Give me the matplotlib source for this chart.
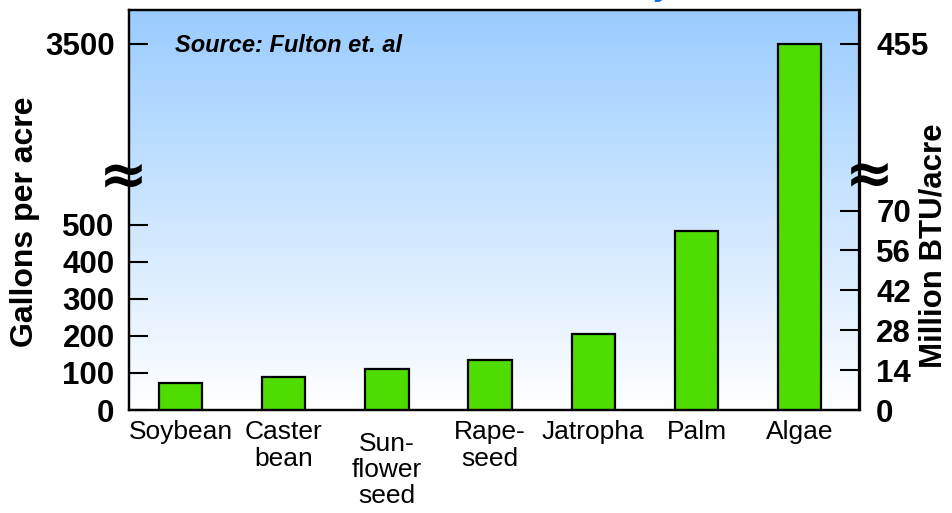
import numpy as np
import matplotlib
matplotlib.use("Agg")
import matplotlib.pyplot as plt
import matplotlib.transforms as mtransforms
from matplotlib.colors import LinearSegmentedColormap

# ---------------- data ----------------
crops = ["Soybean", "Caster\nbean", "Sun-\nflower\nseed", "Rape-\nseed",
         "Jatropha", "Palm", "Algae"]
gallons_per_acre = [72, 88, 112, 136, 205, 482, 3500]
left_ticks = [0, 100, 200, 300, 400, 500, 3500]
right_ticks = [0, 14, 28, 42, 56, 70, 455]
btu_per_gallon = 0.13          # million BTU per gallon (right axis conversion)
break_value = 627              # gallons where the broken axis jumps
compress = 0.126               # compression of the range above the break
y_top = 4230
source_text = "Source: Fulton et. al"
ylabel_left = "Gallons per acre"
ylabel_right = "Million BTU/acre"


def fwd(v):
    v = np.asarray(v, dtype=float)
    return np.where(v <= break_value, v, break_value + (v - break_value) * compress)


def inv(t):
    t = np.asarray(t, dtype=float)
    return np.where(t <= break_value, t, break_value + (t - break_value) / compress)


W, H = 952, 513
fig = plt.figure(figsize=(W / 100, H / 100), dpi=100)
ax_l, ax_r, ax_b, ax_t = 128.5, 859.5, 410, 9.5
ax = fig.add_axes([ax_l / W, 1 - ax_b / H, (ax_r - ax_l) / W, (ax_b - ax_t) / H])

ax.set_yscale("function", functions=(fwd, inv))
ax.set_facecolor("none")

# gradient background
cmap = LinearSegmentedColormap.from_list("bg", ["#ffffff", "#99ccff"])
grad = np.linspace(0, 1, 256).reshape(-1, 1)
ax.imshow(grad, extent=[0, 1, 0, 1], transform=ax.transAxes, aspect="auto",
          cmap=cmap, origin="lower", zorder=0, interpolation="bicubic")

x = np.arange(len(crops))
ax.bar(x, gallons_per_acre, width=0.42, color="#4fdc00", edgecolor="black",
       linewidth=1.6, zorder=3)

ax.set_xlim(-0.505, 6.58)
ax.set_ylim(0, y_top)

tick_font = ["Liberation Sans", "DejaVu Sans"]

# left axis ticks
ax.set_yticks(left_ticks)
ax.set_yticklabels([str(t) for t in left_ticks])
ax.tick_params(axis="y", direction="in", length=14, width=1.5, pad=10,
               labelsize=22.5)
for lab in ax.get_yticklabels():
    lab.set_fontweight("bold")
    lab.set_family(tick_font)
ax.minorticks_off()

# x category labels as texts
ax.set_xticks([])
label_font = ["Liberation Sans", "DejaVu Sans"]
blend = mtransforms.blended_transform_factory(ax.transData, ax.transAxes)
for i, name in enumerate(crops):
    dy = -8 if name.count("\n") == 2 else 0
    tr = blend + mtransforms.ScaledTranslation(0, dy / 72, fig.dpi_scale_trans)
    ax.text(i, -0.026, name, transform=tr, ha="center", va="top",
            fontsize=19, family=label_font, linespacing=1.12,
            multialignment="center")

for s in ax.spines.values():
    s.set_linewidth(1.6)
    s.set_color("black")

# right axis
ax2 = ax.twinx()
ax2.set_yscale("function",
               functions=(lambda b: fwd(np.asarray(b) / btu_per_gallon),
                          lambda t: inv(t) * btu_per_gallon))
ax2.set_ylim(0, y_top * btu_per_gallon)
ax2.set_yticks(right_ticks)
ax2.set_yticklabels([str(t) for t in right_ticks])
ax2.minorticks_off()
ax2.tick_params(axis="y", direction="in", length=14, width=1.5, pad=12,
                labelsize=22.5)
for lab in ax2.get_yticklabels():
    lab.set_fontweight("bold")
    lab.set_family(tick_font)
for s in ax2.spines.values():
    s.set_linewidth(1.6)

# source note
ax.text((175 - ax_l) / (ax_r - ax_l), (ax_b - 45) / (ax_b - ax_t), source_text,
        transform=ax.transAxes, ha="left", va="center", fontsize=17,
        fontweight="bold", fontstyle="italic",
        family=tick_font, zorder=5)

# axis break marks
for px, py in [(123, 177), (869, 176)]:
    ax.text((px - ax_l) / (ax_r - ax_l), (ax_b - py) / (ax_b - ax_t), "≈",
            transform=ax.transAxes, ha="center", va="center", fontsize=42,
            fontweight="bold", family=["DejaVu Sans"], clip_on=False, zorder=6)

# axis titles
fig.text(25 / W, 1 - 222 / H, ylabel_left, rotation=90, ha="center",
         va="center", fontsize=23, fontweight="bold", family=tick_font)
fig.text(934 / W, 1 - 246 / H, ylabel_right, rotation=90, ha="center",
         va="center", fontsize=22.5, fontweight="bold", family=tick_font)

# cropped title fragment at the very top
fig.text(662 / W, 1 + 5 / H, "y", ha="center", va="baseline", fontsize=24,
         fontweight="bold", color="#0b6fd6", family=tick_font)

fig.savefig("out.png", dpi=100)
